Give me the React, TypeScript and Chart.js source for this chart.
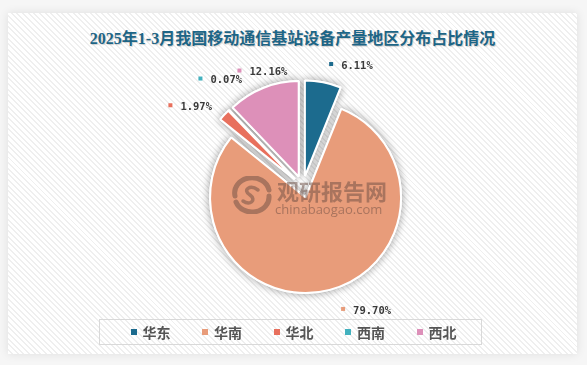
import React, { useEffect, useRef } from "react";
import { Chart, registerables } from "chart.js";

Chart.register(...registerables);

const TITLE = "2025年1-3月我国移动通信基站设备产量地区分布占比情况";
const categories = ["华东", "华南", "华北", "西南", "西北"];
const shares = [6.11, 79.7, 1.97, 0.07, 12.16];
const colors = ["#1c6b8e", "#e89c7a", "#e8705d", "#42b1be", "#dd90b9"];

const explodePlugin = {
  id: "explode",
  beforeDatasetDraw(chart: any, args: any, opts: any) {
    const ctx = chart.ctx;
    const D = opts.distance;
    const arcs = args.meta.data;
    for (let pass = 0; pass < 2; pass++) {
      arcs.forEach((arc: any) => {
        const mid = (arc.startAngle + arc.endAngle) / 2;
        ctx.save();
        ctx.translate(Math.cos(mid) * D, Math.sin(mid) * D);
        if (pass === 0) {
          ctx.shadowColor = opts.shadowColor;
          ctx.shadowBlur = opts.shadowBlur;
        }
        arc.draw(ctx);
        ctx.restore();
      });
    }
    return false;
  },
};

const labelPlugin = {
  id: "sliceLabels",
  afterDatasetsDraw(chart: any, _args: any, opts: any) {
    const meta = chart.getDatasetMeta(0);
    const ctx = chart.ctx;
    const data = chart.data.datasets[0].data;
    const bg = chart.data.datasets[0].backgroundColor;
    meta.data.forEach((arc: any, i: number) => {
      const a = (arc.startAngle + arc.endAngle) / 2 + (opts.angleShift[i] * Math.PI) / 180;
      const dist = arc.outerRadius + opts.gap + opts.distShift[i];
      const mx = arc.x + Math.cos(a) * dist;
      const my = arc.y + Math.sin(a) * dist;
      ctx.save();
      ctx.fillStyle = bg[i];
      ctx.fillRect(mx - 2, my - 2, 4, 4);
      ctx.font = opts.font;
      ctx.fillStyle = opts.color;
      ctx.textAlign = "left";
      ctx.textBaseline = "middle";
      ctx.fillText(Number(data[i]).toFixed(2) + "%", mx + 10, my + 2);
      ctx.restore();
    });
  },
};

export default function App() {
  const ref = useRef<HTMLCanvasElement | null>(null);

  useEffect(() => {
    if (!ref.current) return;
    const chart = new Chart(ref.current, {
      type: "pie",
      data: {
        labels: categories,
        datasets: [
          {
            data: shares,
            backgroundColor: colors,
            borderColor: "#ffffff",
            borderWidth: 2,
          },
        ],
      },
      options: {
        responsive: false,
        animation: false,
        radius: 95.5,
        layout: { padding: { left: 40, right: 21.4, top: 30, bottom: 21.4 } },
        plugins: {
          legend: { display: false },
          title: { display: false },
          tooltip: { enabled: false },
          explode: { distance: 11, shadowColor: "rgba(0,0,0,0.35)", shadowBlur: 8 },
          sliceLabels: {
            gap: 30.5,
            angleShift: [2, -3.7, -10.8, 0.5, -6.7],
            distShift: [0, 2.6, 29.5, 23, 6.4],
            font: "bold 10.5px 'DejaVu Sans Mono'",
            color: "#3a3a3a",
          },
        },
      } as any,
      plugins: [explodePlugin, labelPlugin],
    });
    return () => chart.destroy();
  }, []);

  const wm = "rgba(105,75,65,0.5)";

  return (
    <div
      style={{
        position: "fixed",
        left: 0,
        top: 0,
        width: 587,
        height: 365,
        background: "#f6f6f6",
        overflow: "hidden",
      }}
    >
      <div
        style={{
          position: "absolute",
          left: 8,
          top: 13,
          width: 569,
          height: 341,
          boxShadow: "0 0 9px rgba(0,0,0,0.10)",
          background:
            "repeating-linear-gradient(45deg, #ffffff 0px, #ffffff 2.6px, #efefef 2.6px, #efefef 4px)",
        }}
      />
      <div
        style={{
          position: "absolute",
          left: 8,
          top: 29,
          width: 569,
          textAlign: "center",
          font: "bold 16px/20px 'Liberation Serif', 'Noto Sans CJK SC', serif",
          color: "#1d6586",
          whiteSpace: "nowrap",
          textShadow: "1px 1px 1px rgba(0,0,0,0.18)",
        }}
      >
        {TITLE}
      </div>
      <canvas
        ref={ref}
        width={587}
        height={365}
        style={{ position: "absolute", left: 0, top: 0, width: 587, height: 365 }}
      />
      <svg
        width={44}
        height={38}
        style={{ position: "absolute", left: 230, top: 176, pointerEvents: "none" }}
      >
        <g fill="none" stroke={wm} strokeLinecap="round">
          <path d="M 5 20 A 17 15 0 0 1 39 14" strokeWidth={5} />
          <path d="M 39 20 A 17 15 0 0 1 6 26" strokeWidth={5} />
          <path d="M 28 14 C 20 8, 12 14, 20 19 C 27 24, 20 30, 13 25" strokeWidth={3.5} />
        </g>
      </svg>
      <div
        style={{
          position: "absolute",
          left: 277,
          top: 177,
          font: "bold 22px/26px 'Noto Sans CJK SC', sans-serif",
          color: wm,
          whiteSpace: "nowrap",
          pointerEvents: "none",
        }}
      >
        观研报告网
      </div>
      <div
        style={{
          position: "absolute",
          left: 275,
          top: 201,
          font: "13px/16px 'Open Sans', sans-serif",
          color: wm,
          whiteSpace: "nowrap",
          pointerEvents: "none",
        }}
      >
        chinabaogao.com
      </div>
      <div
        style={{
          position: "absolute",
          left: 99,
          top: 319,
          width: 383,
          height: 26,
          boxSizing: "border-box",
          border: "1.5px solid #d9d9d9",
          display: "flex",
          alignItems: "center",
          paddingLeft: 30.5,
        }}
      >
        {categories.map((c, i) => (
          <div
            key={c}
            style={{ display: "flex", alignItems: "center", width: 71.5, flex: "0 0 71.5px" }}
          >
            <span
              style={{
                display: "inline-block",
                width: 6,
                height: 6,
                background: colors[i],
                marginRight: 6,
              }}
            />
            <span
              style={{
                font: "bold 14px/18px 'Noto Sans CJK SC', sans-serif",
                color: "#555555",
                whiteSpace: "nowrap",
              }}
            >
              {c}
            </span>
          </div>
        ))}
      </div>
    </div>
  );
}
